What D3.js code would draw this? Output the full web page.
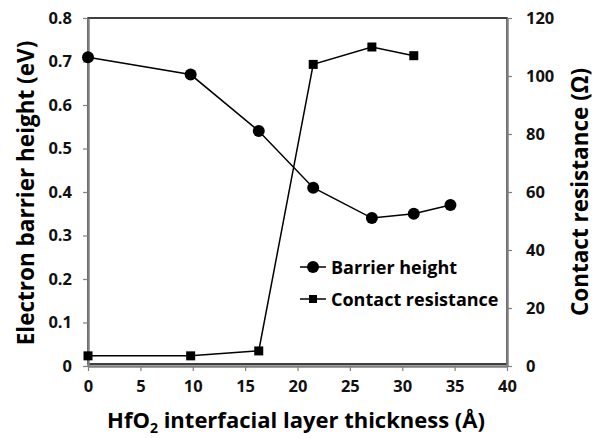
<!DOCTYPE html>
<html><head><meta charset="utf-8">
<script src="https://cdn.jsdelivr.net/npm/d3@7"></script>
<style>body{margin:0;background:#fff}svg{display:block}text{font-family:"Open Sans",sans-serif;font-weight:bold}</style>
</head><body><svg id="c" width="597" height="438"></svg>
<script>
const barrierX = [0, 9.8, 16.3, 21.5, 27.1, 31.1, 34.6];
const barrierY = [0.71, 0.67, 0.54, 0.41, 0.34, 0.35, 0.37];
const resistX = [0, 9.8, 16.3, 21.5, 27.1, 31.1];
const resistY = [3.5, 3.5, 5.2, 104, 110, 107];
const xTicks = [0,5,10,15,20,25,30,35,40];
const leftTicks = [0,0.1,0.2,0.3,0.4,0.5,0.6,0.7,0.8];
const rightTicks = [0,20,40,60,80,100,120];

const svg = d3.select("#c");
const L=88,R=507,T=18,B=366;
const x = d3.scaleLinear().domain([0,40]).range([L,R]);
const yL = d3.scaleLinear().domain([0,0.8]).range([B,T]);
const yR = d3.scaleLinear().domain([0,120]).range([B,T]);

svg.append("rect").attr("x",L).attr("y",T).attr("width",R-L).attr("height",B-T-2)
  .attr("fill","none").attr("stroke","#000").attr("stroke-width",1.5);

const grey="#7f7f7f";
function styleAxis(g){
  g.select(".domain").attr("stroke",grey).attr("stroke-width",2.5);
  g.selectAll(".tick line").attr("stroke",grey).attr("stroke-width",1.2);
  g.selectAll(".tick text").attr("fill","#111").style("font-size","16.5px").style("font-family","'Open Sans',sans-serif").style("font-weight","bold");
}
svg.append("g").attr("transform",`translate(0,${B})`)
  .call(d3.axisBottom(x).tickValues(xTicks).tickSizeInner(5).tickSizeOuter(0).tickPadding(9))
  .call(styleAxis);
svg.append("g").attr("transform",`translate(${L},0)`)
  .call(d3.axisLeft(yL).tickValues(leftTicks).tickFormat(d=>d===0?"0":d3.format(".1f")(d)).tickSizeInner(5).tickSizeOuter(0).tickPadding(11))
  .call(styleAxis);
svg.append("g").attr("transform",`translate(${R},0)`)
  .call(d3.axisRight(yR).tickValues(rightTicks).tickSizeInner(5).tickSizeOuter(0).tickPadding(14))
  .call(styleAxis);

const bIdx=d3.range(barrierX.length), rIdx=d3.range(resistX.length);
svg.append("path").datum(bIdx).attr("fill","none").attr("stroke","#000").attr("stroke-width",1.5)
  .attr("d",d3.line().x(i=>x(barrierX[i])).y(i=>yL(barrierY[i])));
svg.append("path").datum(rIdx).attr("fill","none").attr("stroke","#000").attr("stroke-width",1.5)
  .attr("d",d3.line().x(i=>x(resistX[i])).y(i=>yR(resistY[i])));
svg.selectAll("circle.b").data(bIdx).join("circle").attr("cx",i=>x(barrierX[i])).attr("cy",i=>yL(barrierY[i])).attr("r",6).attr("fill","#000");
svg.selectAll("rect.r").data(rIdx).join("rect").attr("x",i=>x(resistX[i])-4.5).attr("y",i=>yR(resistY[i])-4.5).attr("width",9).attr("height",9).attr("fill","#000");

// legend
const lg = svg.append("g");
lg.append("line").attr("x1",300).attr("x2",326).attr("y1",267).attr("y2",267).attr("stroke","#000").attr("stroke-width",1.5);
lg.append("circle").attr("cx",313).attr("cy",267).attr("r",6).attr("fill","#000");
lg.append("text").attr("x",331).attr("y",273.5).style("font-size","18px").text("Barrier height");
lg.append("line").attr("x1",300).attr("x2",326).attr("y1",299).attr("y2",299).attr("stroke","#000").attr("stroke-width",1.5);
lg.append("rect").attr("x",309).attr("y",295).attr("width",8).attr("height",8).attr("fill","#000");
lg.append("text").attr("x",331).attr("y",305.5).style("font-size","18px").text("Contact resistance");

// axis titles
svg.append("text").attr("transform","translate(34,193) rotate(-90)").attr("text-anchor","middle").style("font-size","22.5px").text("Electron barrier height (eV)");
svg.append("text").attr("transform","translate(588,192) rotate(-90)").attr("text-anchor","middle").style("font-size","22.5px").text("Contact resistance (Ω)");
const xt = svg.append("text").attr("x",296).attr("y",428).attr("text-anchor","middle").style("font-size","22px");
xt.append("tspan").text("HfO");
xt.append("tspan").attr("dy",5).style("font-size","14px").text("2");
xt.append("tspan").attr("dy",-5).text(" interfacial layer thickness (Å)");
</script></body></html>
